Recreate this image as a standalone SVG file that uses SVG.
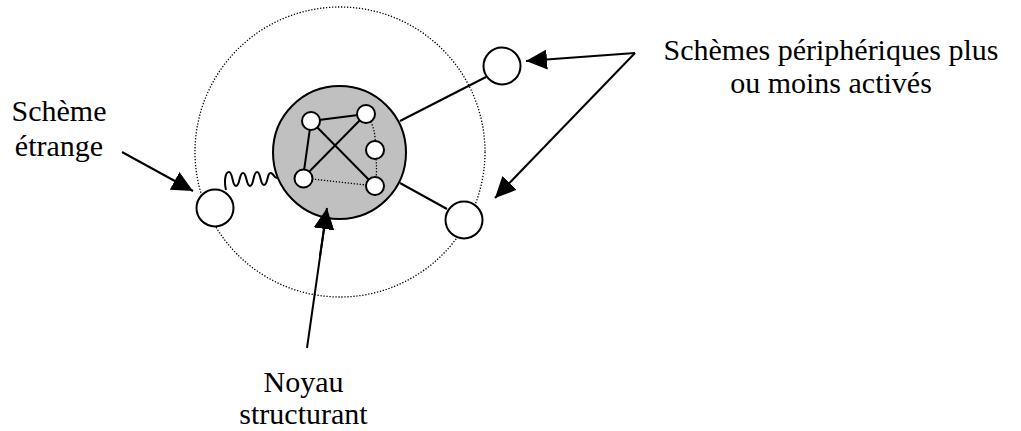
<svg xmlns="http://www.w3.org/2000/svg" width="1021" height="431" viewBox="0 0 1021 431">
  <defs>
    <style>
      text { font-family: "Liberation Serif", "DejaVu Serif", serif; font-size: 30px; fill: #000; }
      .node { fill: #fff; stroke: #000; stroke-width: 2; }
      .core { fill: #c0c0c0; stroke: #000; stroke-width: 2; }
      .halo { fill: none; stroke: #000; stroke-width: 1.3; stroke-dasharray: 1.3 1.7; }
      .link { fill: none; stroke: #000; stroke-width: 2; }
      .weak { fill: none; stroke: #000; stroke-width: 1.3; stroke-dasharray: 1.3 1.7; }
      .arrow { fill: none; stroke: #000; stroke-width: 2; marker-end: url(#head); }
    </style>
    <marker id="head" markerUnits="userSpaceOnUse" markerWidth="22" markerHeight="22" refX="21" refY="10" orient="auto" viewBox="0 0 22 20">
      <path d="M0,0 L21,10 L0,20 z" fill="#000"/>
    </marker>
  </defs>

  <rect width="1021" height="431" fill="#fff"/>

  <!-- activation field around the core -->
  <g id="field">
    <circle class="halo" cx="340" cy="152" r="145"/>
  </g>

  <!-- links between nodes and annotation arrows -->
  <g id="connectors">
    <line class="link" x1="400" y1="121" x2="486" y2="77"/>
    <line class="link" x1="400" y1="183" x2="447" y2="209"/>
    <path class="link" d="M226,190 C224,182 225,172 229,172 C233,172 232,186 236,186 C240,186 239,173 243,173 C247,173 246,186 250,186 C254,186 253,172 257,172 C261,172 260,185 264,185 C268,185 267,172 271,173 C274,174 274,178 277,178"/>
    <line class="arrow" x1="122" y1="152" x2="193" y2="191"/>
    <line class="arrow" x1="635" y1="53" x2="526" y2="61"/>
    <line class="arrow" x1="635" y1="53" x2="495" y2="198"/>
    <line class="arrow" x1="307" y1="348" x2="327" y2="208"/>
  </g>

  <g id="core">
    <circle class="core" cx="339.5" cy="152.5" r="66.5"/>
  </g>

  <!-- links inside the core, drawn over its fill -->
  <g id="core-links">
    <line class="link" x1="311" y1="121" x2="366" y2="114"/>
    <line class="link" x1="311" y1="121" x2="303" y2="178"/>
    <line class="link" x1="311" y1="121" x2="375" y2="186"/>
    <line class="link" x1="366" y1="114" x2="303" y2="178"/>
    <path class="weak" d="M366,114 Q377,128 375,150"/>
    <path class="weak" d="M375,150 Q378,170 375,186"/>
    <line class="weak" x1="303" y1="178" x2="375" y2="186"/>
    <line class="arrow" x1="320" y1="256" x2="327" y2="208"/>
  </g>

  <g id="n-tl"><circle class="node" cx="311" cy="121" r="9"/></g>
  <g id="n-tr"><circle class="node" cx="366" cy="114" r="9"/></g>
  <g id="n-mr"><circle class="node" cx="375" cy="150" r="9"/></g>
  <g id="n-bl"><circle class="node" cx="303.5" cy="178.5" r="9"/></g>
  <g id="n-br"><circle class="node" cx="375" cy="186" r="9"/></g>

  <g id="p-top"><circle class="node" cx="502" cy="66" r="18.5"/></g>
  <g id="p-bottom"><circle class="node" cx="464" cy="220" r="18.5"/></g>
  <g id="p-strange"><circle class="node" cx="215" cy="208" r="18.5"/></g>

  <g id="label-strange" font-family="Liberation Serif, DejaVu Serif, serif">
    <text x="59" y="121" text-anchor="middle">Schème</text>
    <text x="59" y="156" text-anchor="middle">étrange</text>
  </g>
  <g id="label-peripheral" font-family="Liberation Serif, DejaVu Serif, serif">
    <text x="831" y="60" text-anchor="middle">Schèmes périphériques plus</text>
    <text x="831" y="93" text-anchor="middle">ou moins activés</text>
  </g>
  <g id="label-core" font-family="Liberation Serif, DejaVu Serif, serif">
    <text x="303.5" y="392" text-anchor="middle">Noyau</text>
    <text x="303.5" y="424" text-anchor="middle">structurant</text>
  </g>
</svg>
